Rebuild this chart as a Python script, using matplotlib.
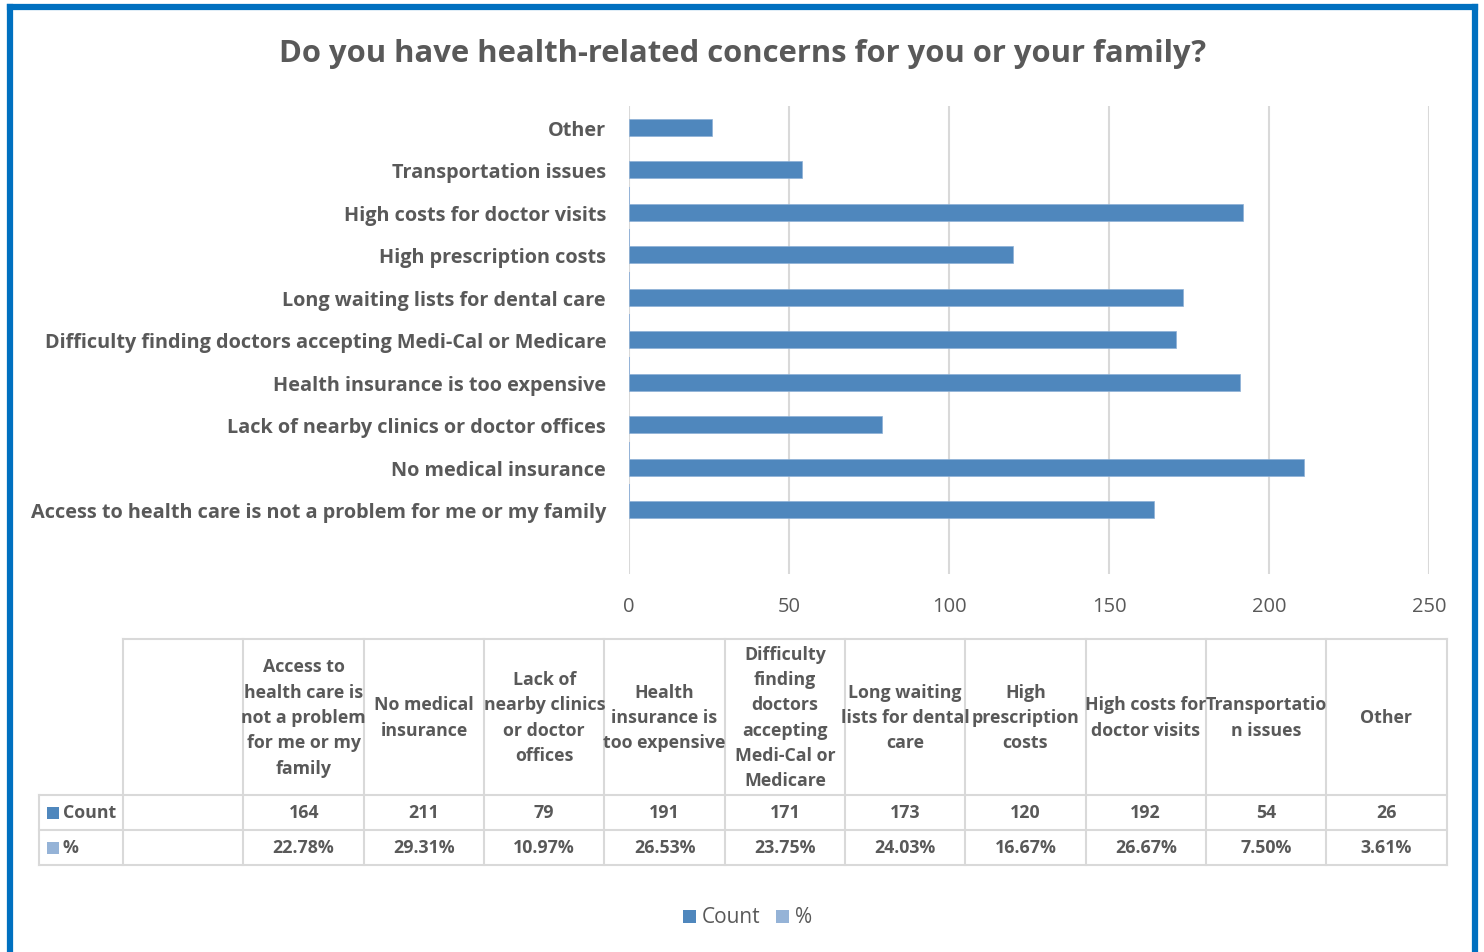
import matplotlib
matplotlib.use("Agg")
import matplotlib.pyplot as plt
from matplotlib.patches import Rectangle
from matplotlib.lines import Line2D

plt.rcParams['font.family'] = ['Open Sans', 'DejaVu Sans']

# ---- data ----
categories = [
    "Access to health care is not a problem for me or my family",
    "No medical insurance",
    "Lack of nearby clinics or doctor offices",
    "Health insurance is too expensive",
    "Difficulty finding doctors accepting Medi-Cal or Medicare",
    "Long waiting lists for dental care",
    "High prescription costs",
    "High costs for doctor visits",
    "Transportation issues",
    "Other",
]
# wrapped headers as they appear in the data table
table_headers = [
    "Access to\nhealth care is\nnot a problem\nfor me or my\nfamily",
    "No medical\ninsurance",
    "Lack of\nnearby clinics\nor doctor\noffices",
    "Health\ninsurance is\ntoo expensive",
    "Difficulty\nfinding\ndoctors\naccepting\nMedi-Cal or\nMedicare",
    "Long waiting\nlists for dental\ncare",
    "High\nprescription\ncosts",
    "High costs for\ndoctor visits",
    "Transportatio\nn issues",
    "Other",
]
counts = [164, 211, 79, 191, 171, 173, 120, 192, 54, 26]
percents = [22.78, 29.31, 10.97, 26.53, 23.75, 24.03, 16.67, 26.67, 7.50, 3.61]
x_ticks = [0, 50, 100, 150, 200, 250]

# ---- style ----
W, H = 1484, 953
TEXT = "#595959"
GRID = "#D9D9D9"
C_COUNT = "#4F87BD"
C_PCT = "#95B3D7"
BORDER = "#0070C0"


def fx(px):
    return px / W


def fy(py):
    return 1 - py / H


fig = plt.figure(figsize=(W / 100, H / 100), dpi=100)
fig.patch.set_facecolor("white")

# outer frame
for (x0, y0, x1, y1) in [(10, 8, 1475, 8), (10, 8, 10, 953), (1475, 8, 1475, 953)]:
    fig.add_artist(Line2D([fx(x0), fx(x1)], [fy(y0), fy(y1)], color=BORDER,
                          lw=4.5, solid_capstyle="projecting"))

fig.text(fx(743), fy(54), "Do you have health-related concerns for you or your family?",
         ha="center", va="center", fontsize=22.3, fontweight="bold", color=TEXT)

# ---- bar chart ----
ax = fig.add_axes([fx(629), fy(575), fx(1429) - fx(629), (575 - 107) / H])
ypos = list(range(len(categories)))
ax.barh(ypos, counts, height=0.4, color=C_COUNT, edgecolor="#8DB0D6", linewidth=0.5, zorder=3)
ax.barh([y + 0.4 for y in ypos], [p / 100 for p in percents], height=0.4,
        color=C_PCT, linewidth=0, zorder=3)
ax.set_xlim(0, 250)
ax.set_ylim(-1.51, 9.50)
ax.set_xticks(x_ticks)
ax.set_yticks(ypos)
ax.set_yticklabels(categories, fontsize=14.3, fontweight="bold", color=TEXT)
ax.tick_params(axis="x", length=0, pad=16, labelsize=14.5, labelcolor=TEXT)
ax.tick_params(axis="y", length=0, pad=16.5)
ax.grid(axis="x", color=GRID, lw=1.5, zorder=0)
for s in ax.spines.values():
    s.set_visible(False)

# ---- data table ----
col0 = 243.5
colw = 120.3
right = col0 + colw * len(categories)
ys = [640, 796, 831, 866]
lw_t = 1.5


def hline(y, x0, x1):
    fig.add_artist(Line2D([fx(x0), fx(x1)], [fy(y), fy(y)], color=GRID, lw=lw_t))


def vline(x, y0, y1):
    fig.add_artist(Line2D([fx(x), fx(x)], [fy(y0), fy(y1)], color=GRID, lw=lw_t))


hline(640, 123.5, right)
for y in ys[1:]:
    hline(y, 39, right)
vline(39, 796, 866)
vline(123.5, 640, 866)
for i in range(len(categories) + 1):
    vline(col0 + i * colw, 640, 866)

TFS = 12.8
for i, (hdr, c, p) in enumerate(zip(table_headers, counts, percents)):
    cx = col0 + (i + 0.5) * colw
    fig.text(fx(cx), fy(718), hdr, ha="center", va="center", fontsize=TFS,
             fontweight="bold", color=TEXT, linespacing=1.52)
    fig.text(fx(cx), fy(813.5), f"{c}", ha="center", va="center", fontsize=TFS,
             fontweight="bold", color=TEXT)
    fig.text(fx(cx), fy(848.5), f"{p:.2f}%", ha="center", va="center", fontsize=TFS,
             fontweight="bold", color=TEXT)

# row keys
for ymid, col, lab in [(813.5, C_COUNT, "Count"), (848.5, C_PCT, "%")]:
    fig.add_artist(Rectangle((fx(47), fy(ymid + 6)), fx(59) - fx(47), 12 / H,
                             color=col, lw=0))
    fig.text(fx(63), fy(ymid), lab, ha="left", va="center", fontsize=TFS,
             fontweight="bold", color=TEXT)

# ---- legend ----
for x_sq, col, lab in [(683, C_COUNT, "Count"), (776, C_PCT, "%")]:
    fig.add_artist(Rectangle((fx(x_sq), fy(924)), 13 / W, 13 / H, color=col, lw=0))
    fig.text(fx(x_sq + 19), fy(918), lab, ha="left", va="center", fontsize=15,
             color=TEXT)

fig.savefig("out.png", dpi=100, facecolor="white")
